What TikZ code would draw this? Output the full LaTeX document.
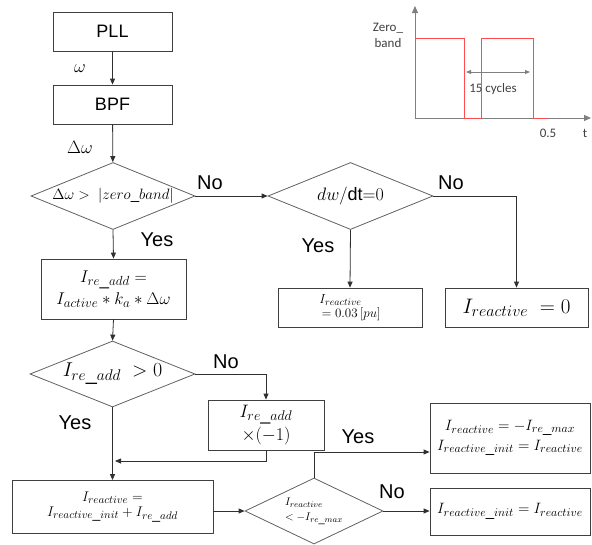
\RequirePackage{fix-cm}
\documentclass[tikz,border=0pt]{standalone}
\usepackage{fontspec}
\setmainfont{Liberation Sans}
\newfontfamily\chartfont{Carlito}
\usetikzlibrary{shapes.geometric,arrows.meta}
\DeclareMathSizes{11}{11}{8.5}{6.5}
\DeclareMathSizes{12}{12}{9.4}{7}
\DeclareMathSizes{13}{13}{10}{7.5}
\DeclareMathSizes{14}{14}{11}{8}
\DeclareMathSizes{15}{15}{11.7}{8.5}
\DeclareMathSizes{16}{16}{12.5}{9}
\DeclareMathSizes{17}{17}{13.2}{9.5}
\DeclareMathSizes{18}{18}{14}{10}
\DeclareMathSizes{20}{20}{15.5}{11}
\DeclareMathSizes{21}{21}{16}{12}
\definecolor{boxc}{HTML}{404040}
\definecolor{diac}{HTML}{606060}
\definecolor{linec}{HTML}{303030}
\definecolor{axisc}{HTML}{7F7F7F}
\definecolor{sigc}{HTML}{FF4D4D}
\newcommand{\fs}[1]{\fontsize{#1}{#1}\selectfont}
\begin{document}
\begin{tikzpicture}[x=1pt,y=-1pt,
  box/.style={draw=boxc, line width=0.8pt, inner sep=1pt, align=center},
  dia/.style={diamond, draw=diac, line width=0.8pt, inner sep=0pt},
  conn/.style={draw=linec, line width=0.8pt},
  arr/.style={conn, -{Triangle[length=6pt,width=5pt]}},
  lbl/.style={font=\fs{20}, inner sep=0pt},
  axis/.style={draw=axisc, line width=1pt},
  ctext/.style={font=\chartfont\fs{13}, text=black!75, inner sep=0pt}
]
\useasboundingbox (0,0) rectangle (592,544);

% ---- inset chart ----
\coordinate (o) at (415,118);
\coordinate (ytop) at (415,6);
\coordinate (xend) at (591,118);
\draw[axis, -{Triangle[length=7pt,width=6pt]}] (o) -- (ytop);
\draw[axis, -{Triangle[length=7pt,width=6pt]}] (o) -- (xend);
\draw[sigc, line width=1pt] (415,38) -- (464,38) -- (464,118) -- (481,118) -- (481,38) -- (533,38) -- (533,118) -- (548,118);
\draw[axisc, line width=0.9pt, {Triangle[length=5pt,width=4pt]}-{Triangle[length=5pt,width=4pt]}] (466,72) -- (530,72);
\node[ctext] (cyc) at (493,89) {15 cycles};
\node[ctext, align=center] (zb) at (388,35) {Zero\_\\[3pt]band};
\node[ctext] (half) at (548,133) {0.5};
\node[ctext] (tt) at (585,133) {t};

% ---- main flow ----
\node[box, minimum width=119pt, minimum height=39pt, font=\fs{18}] (pll) at (112.5,31.5) {PLL};
\node[box, minimum width=119pt, minimum height=39pt, font=\fs{18}] (bpf) at (112.5,104.5) {BPF};
\node[dia, minimum width=164pt, minimum height=67pt] (d1) at (113,196)
  {\makebox[0pt]{\fs{15}$\Delta\omega>\ |zero\_band|$}};
\node[dia, minimum width=165pt, minimum height=67pt] (d2) at (350.5,196)
  {\makebox[0pt]{\fs{18}$dw/\mathrm{dt}{=}0$}};
\node[box, minimum width=144pt, minimum height=39pt, align=left] (r003) at (350,307.5)
  {\fs{13}$I_{reactive}$\\[2pt]\fs{13}$\,=0.03\,[pu]$};
\node[box, minimum width=143pt, minimum height=39pt] (r0) at (516.5,307.5)
  {\fs{21}$I_{reactive}\ =0$};
\node[box, minimum width=145pt, minimum height=60pt] (ire) at (113.5,289)
  {\fs{17}$I_{re\_add}=$\\[3pt]\fs{17}$I_{active}*k_a*\Delta\omega$};
\node[dia, minimum width=165pt, minimum height=66pt] (d3) at (112.5,374)
  {\makebox[0pt]{\fs{20}$I_{re\_add}\ >0$}};
\node[box, minimum width=116pt, minimum height=50pt] (neg) at (266,425)
  {\fs{18}$I_{re\_add}$\\[2pt]\fs{18}$\times(-1)$};
\node[box, minimum width=201pt, minimum height=53pt] (sum) at (112.5,507)
  {\fs{14}$I_{reactive}=$\\[3pt]\fs{14}$I_{reactive\_init}+I_{re\_add}$};
\node[dia, minimum width=138pt, minimum height=66pt] (d4) at (314,511)
  {\makebox[0pt]{\fs{11}$\begin{array}{l}I_{reactive}\\[4pt] <-I_{re\_max}\end{array}$}};
\node[box, minimum width=160pt, minimum height=70pt] (max) at (510,438)
  {\fs{15}$I_{reactive}=-I_{re\_max}$\\[3pt]\fs{15}$I_{reactive\_init}=I_{reactive}$};
\node[box, minimum width=160pt, minimum height=47pt] (init) at (510,511.5)
  {\fs{15}$I_{reactive\_init}=I_{reactive}$};

% ---- connectors ----
\draw[arr] (pll) -- (bpf);
\draw[arr] (bpf) -- (d1);
\draw[arr] (d1.east) -- (d2.west);
\draw[arr] (d2.south) -- (r003.north);
\draw[arr] (d2.east) -| (r0.north);
\draw[arr] (d1.south) -- (ire.north);
\draw[arr] (ire.south) -- (d3.north);
\draw[arr] (d3.east) -| (neg.north);
\draw[arr] (d3.south) -- (sum.north);
\coordinate (merge) at (115,461);
\draw[arr] (neg.south) |- (merge);
\draw[arr] (d4.west -| sum.east) -- (d4.west);
\draw[arr] (d4.north) |- ([yshift=-14pt]max.west);
\draw[arr] (d4.east) -- (d4.east -| init.west);

% ---- labels ----
\node[font=\fs{18}, inner sep=0pt] (lw) at (80,69) {$\omega$};
\node[font=\fs{18}, inner sep=0pt] (ldw) at (80,147) {$\Delta\omega$};
\node[lbl] (no1) at (210,183) {No};
\node[lbl] (no2) at (451,183) {No};
\node[lbl] (yes1) at (157,240) {Yes};
\node[lbl] (yes2) at (318,246) {Yes};
\node[lbl] (no3) at (226,362) {No};
\node[lbl] (yes3) at (75,423) {Yes};
\node[lbl] (yes4) at (358,437) {Yes};
\node[lbl] (no4) at (392,492) {No};
\end{tikzpicture}
\end{document}
